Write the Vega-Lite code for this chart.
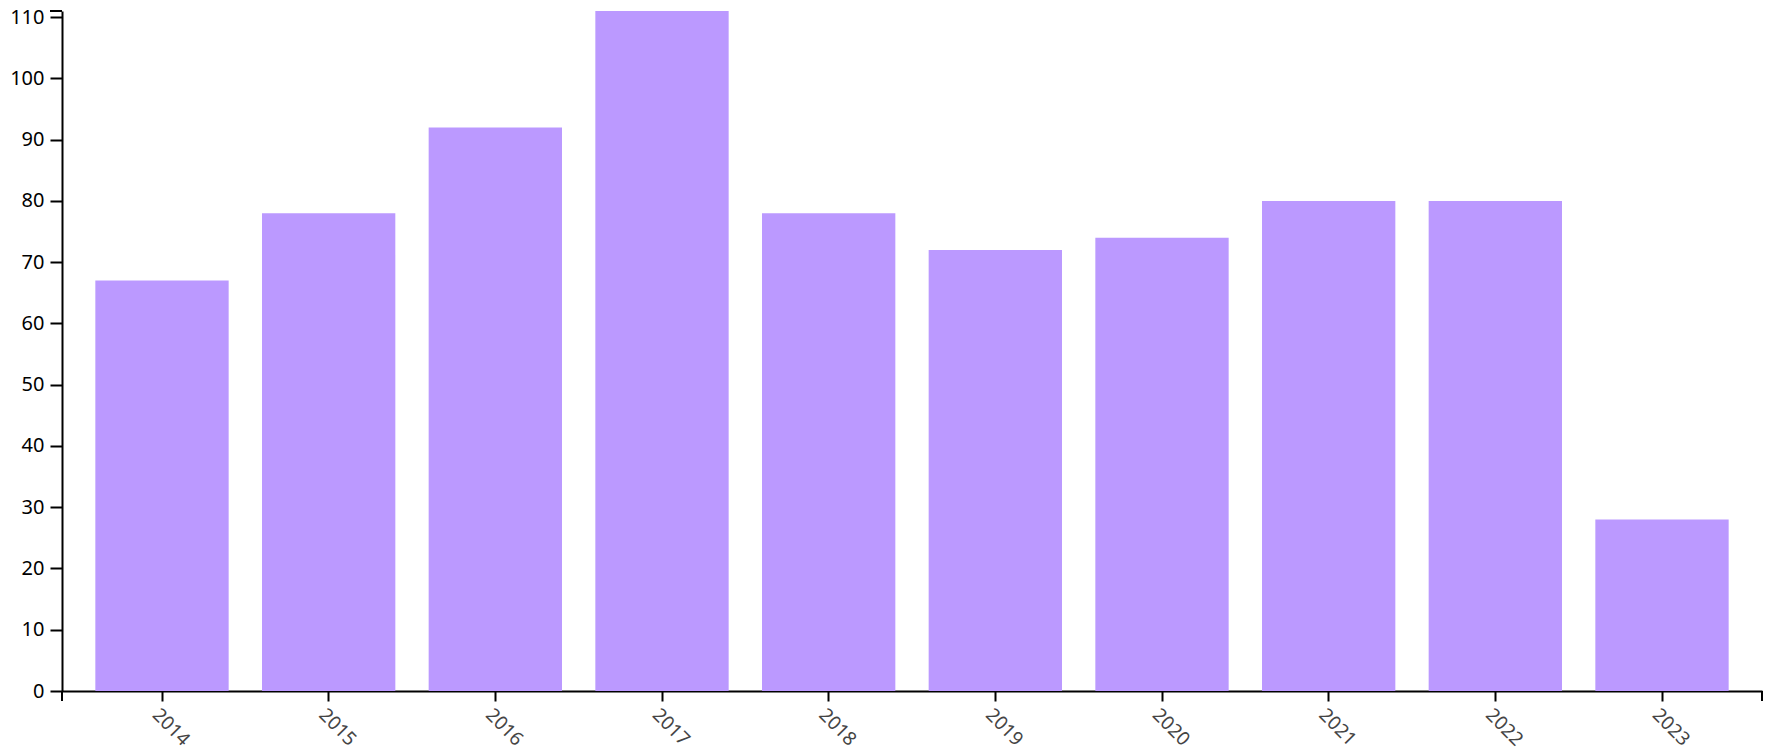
{
  "$schema": "https://vega.github.io/schema/vega-lite/v6.json",
  "width": 1700,
  "height": 680,
  "autosize": {"type": "none"},
  "padding": {"left": 62, "top": 11, "right": 10, "bottom": 62},
  "config": {"view": {"stroke": null}, "font": "Noto Sans"},
  "datasets": {
    "bars": [
      {"year": "2014", "value": 67},
      {"year": "2015", "value": 78},
      {"year": "2016", "value": 92},
      {"year": "2017", "value": 111},
      {"year": "2018", "value": 78},
      {"year": "2019", "value": 72},
      {"year": "2020", "value": 74},
      {"year": "2021", "value": 80},
      {"year": "2022", "value": 80},
      {"year": "2023", "value": 28}
    ],
    "edges": [{"edge": 0}, {"edge": 1}],
    "topedge": [{"edge": 0}]
  },
  "layer": [
    {
      "data": {"name": "bars"},
      "mark": {"type": "bar", "color": "#bb99ff"},
      "encoding": {
        "x": {
          "field": "year", "type": "ordinal",
          "scale": {"paddingInner": 0.2, "paddingOuter": 0.2},
          "axis": {
            "title": null, "labelAngle": 45, "labelAlign": "left", "labelBaseline": "top",
            "labelFontSize": 19, "labelColor": "#444444", "labelPadding": 4,
            "domainColor": "black", "domainWidth": 2, "tickColor": "black", "tickWidth": 2, "tickSize": 10,
            "grid": false
          }
        },
        "y": {
          "field": "value", "type": "quantitative",
          "scale": {"nice": false, "domain": [0, 111]},
          "axis": {
            "title": null, "values": [0, 10, 20, 30, 40, 50, 60, 70, 80, 90, 100, 110],
            "labelFontSize": 20, "labelColor": "black", "labelPadding": 6,
            "domainColor": "black", "domainWidth": 2, "tickColor": "black", "tickWidth": 2, "tickSize": 12,
            "grid": false
          }
        }
      }
    },
    {
      "data": {"name": "edges"},
      "mark": {"type": "rule", "color": "black", "strokeWidth": 2, "y2Offset": 10},
      "encoding": {
        "x": {"field": "edge", "type": "quantitative", "scale": {"domain": [0, 1]}, "axis": null},
        "y": {"datum": 0},
        "y2": {"datum": 0}
      }
    },
    {
      "data": {"name": "topedge"},
      "mark": {"type": "rule", "color": "black", "strokeWidth": 2, "x2Offset": -12},
      "encoding": {
        "x": {"field": "edge", "type": "quantitative", "scale": {"domain": [0, 1]}, "axis": null},
        "x2": {"datum": 0},
        "y": {"datum": 111}
      }
    }
  ],
  "resolve": {"scale": {"x": "independent"}}
}
